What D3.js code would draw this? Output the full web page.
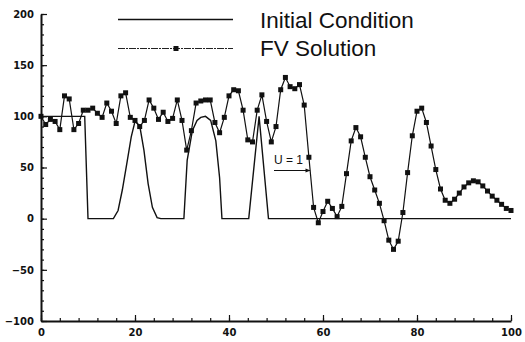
<!DOCTYPE html>
<html>
<head>
<meta charset="utf-8">
<script src="https://cdn.jsdelivr.net/npm/d3@7"></script>
<style>
  body { margin: 0; background: #fff; }
  svg { display: block; }
  .tick text { font-family: "DejaVu Sans", sans-serif; font-weight: bold; font-size: 10px; fill: #111; }
  .legend text, .note { font-family: "Liberation Sans", Arial, sans-serif; fill: #111; }
</style>
</head>
<body>
<div id="chart"></div>
<script>
// FV solution, one value per cell x = 0..100
var fvX = d3.range(0, 101);
var fvY = [100, 92, 97, 95, 87, 120, 117, 87, 93, 106,
           106, 108, 103, 99, 113, 105, 93, 120, 123, 99,
           96, 90, 96, 116, 108, 97, 104, 95, 98, 116,
           96, 67, 86, 113, 115, 116, 116, 94, 84, 99,
           120, 126, 125, 106, 77, 75, 106, 121, 95, 75,
           90, 126, 138, 129, 127, 131, 111, 60, 11, -4,
           7, 17, 10, 2, 12, 44, 76, 89, 80, 60,
           41, 28, 15, -2, -21, -30, -22, 6, 45, 81,
           105, 108, 94, 71, 48, 29, 18, 15, 19, 25,
           31, 35, 37, 36, 32, 27, 22, 18, 14, 10, 8];

// initial condition (square, smooth bump, square, triangle)
var icX = [0, 9.3, 10, 15.4, 16.4, 17.3, 18.3, 19.2, 20, 21, 21.9, 22.8, 23.7, 24.7, 25.5,
           30.4, 31.1, 32.2, 33.2, 34, 35, 36.1, 37.2, 38, 38.5,
           44.2, 46.4, 48.4, 100];
var icY = [100, 100, 0, 0, 8, 28, 55, 80, 95, 91, 67, 34, 11, 1, 0,
           0, 57, 86, 96, 99, 100, 96, 76, 40, 0,
           0, 100, 0, 0];

var xMajor = [0, 20, 40, 60, 80, 100];
var yMajor = [-100, -50, 0, 50, 100, 150, 200];

var width = 525, height = 342;
var svg = d3.select("#chart").append("svg").attr("width", width).attr("height", height);

var x = d3.scaleLinear().domain([0, 100]).range([41, 511]);
var y = d3.scaleLinear().domain([-100, 200]).range([321, 14]);

// minor ticks
svg.append("g").attr("transform", "translate(0," + y(-100) + ")")
  .call(d3.axisBottom(x).tickValues(d3.range(0, 101, 4)).tickSize(-3).tickFormat(""))
  .call(function(g) { g.select(".domain").remove(); });
svg.append("g").attr("transform", "translate(" + x(0) + ",0)")
  .call(d3.axisLeft(y).tickValues(d3.range(-100, 201, 10)).tickSize(-3).tickFormat(""))
  .call(function(g) { g.select(".domain").remove(); });

// major ticks + labels
var xAxis = svg.append("g").attr("transform", "translate(0," + y(-100) + ")")
  .call(d3.axisBottom(x).tickValues(xMajor).tickSize(-6).tickSizeOuter(0).tickPadding(8));
var yAxis = svg.append("g").attr("transform", "translate(" + x(0) + ",0)")
  .call(d3.axisLeft(y).tickValues(yMajor).tickSize(-6).tickSizeOuter(0).tickPadding(7));
svg.selectAll(".domain").attr("stroke-width", 2).attr("stroke", "#111");
svg.selectAll(".tick line").attr("stroke", "#111").attr("stroke-width", 1.2);

// initial condition
var icLine = d3.line().x(function(d) { return x(d[0]); }).y(function(d) { return y(d[1]); });
svg.append("path")
  .datum(d3.zip(icX, icY))
  .attr("d", icLine)
  .attr("fill", "none").attr("stroke", "#111").attr("stroke-width", 1.4);

// FV solution
var fvData = d3.zip(fvX, fvY);
svg.append("path")
  .datum(fvData)
  .attr("d", icLine)
  .attr("fill", "none").attr("stroke", "#111").attr("stroke-width", 1.2);
svg.append("g").selectAll("rect")
  .data(fvData).enter().append("rect")
  .attr("x", function(d) { return x(d[0]) - 2.5; })
  .attr("y", function(d) { return y(d[1]) - 2.5; })
  .attr("width", 5).attr("height", 5)
  .attr("fill", "#111");

// legend
var legend = svg.append("g").attr("class", "legend");
legend.append("line").attr("x1", 118).attr("x2", 233).attr("y1", 19.5).attr("y2", 19.5)
  .attr("stroke", "#111").attr("stroke-width", 1.6);
legend.append("text").attr("x", 260).attr("y", 28).attr("font-size", 22.5).text("Initial Condition");
legend.append("line").attr("x1", 118).attr("x2", 233).attr("y1", 48.5).attr("y2", 48.5)
  .attr("stroke", "#222").attr("stroke-width", 1).attr("stroke-dasharray", "7,1,2,1");
legend.append("rect").attr("x", 173.5).attr("y", 46).attr("width", 5).attr("height", 5).attr("fill", "#111");
legend.append("text").attr("x", 260).attr("y", 56).attr("font-size", 22.5).text("FV Solution");

// velocity annotation
svg.append("defs").append("marker")
  .attr("id", "arrow").attr("viewBox", "0 0 10 10").attr("refX", 9).attr("refY", 5)
  .attr("markerWidth", 7).attr("markerHeight", 5).attr("orient", "auto")
  .append("path").attr("d", "M0,1L10,5L0,9Z").attr("fill", "#111");
svg.append("text").attr("class", "note").attr("x", 274).attr("y", 163.5)
  .attr("font-size", 12).text("U = 1");
svg.append("line").attr("x1", 274).attr("x2", 310).attr("y1", 170.5).attr("y2", 170.5)
  .attr("stroke", "#111").attr("stroke-width", 1).attr("marker-end", "url(#arrow)");
</script>
</body>
</html>
